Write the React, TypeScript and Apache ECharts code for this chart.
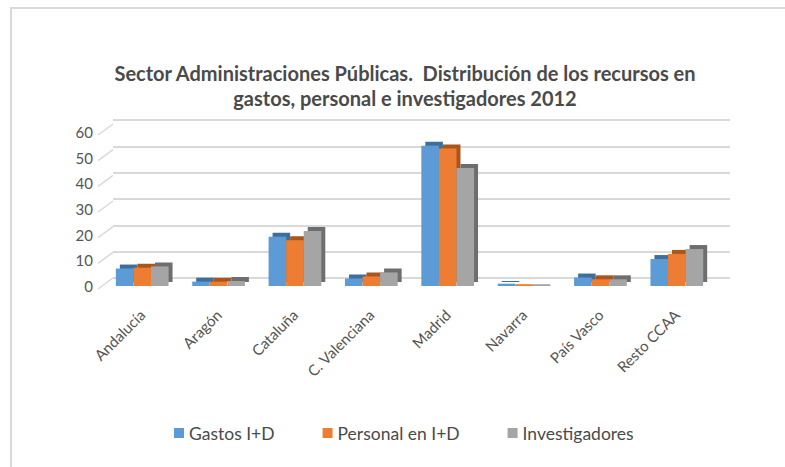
import React, { useEffect, useRef } from "react";
import * as echarts from "echarts";

const categories = ["Andalucía", "Aragón", "Cataluña", "C. Valenciana", "Madrid", "Navarra", "País Vasco", "Resto CCAA"];
const gastos = [6.8, 1.7, 19.2, 2.9, 54.6, 0.9, 3.3, 10.5];
const personal = [7.1, 1.7, 17.8, 3.7, 53.6, 0.7, 2.6, 12.5];
const investigadores = [7.6, 1.9, 21.4, 5.3, 46.0, 0.7, 2.6, 14.4];
const yTicks = [0, 10, 20, 30, 40, 50, 60];
const seriesNames = ["Gastos I+D", "Personal en I+D", "Investigadores"];
const titleText = "Sector Administraciones Públicas.  Distribución de los recursos en\ngastos, personal e investigadores 2012";

const FONT = "Lato, 'Open Sans', sans-serif";
const TXT = "#555555";

export default function App() {
  const ref = useRef<HTMLDivElement>(null);
  useEffect(() => {
    if (!ref.current) return;
    const chart = echarts.init(ref.current, undefined, { renderer: "svg" });
    const barSeries = (name: string, data: number[], color: string, side: string) => ({
      name,
      type: "bar",
      xAxisIndex: 1,
      yAxisIndex: 1,
      data,
      barWidth: "23%",
      barGap: "0%",
      itemStyle: {
        color,
        shadowColor: side,
        shadowBlur: 0,
        shadowOffsetX: 4,
        shadowOffsetY: -4,
      },
    });
    chart.setOption({
      animation: false,
      backgroundColor: "#ffffff",
      textStyle: { fontFamily: FONT },
      title: {
        text: titleText,
        left: 405,
        textAlign: "center",
        top: 60,
        padding: 0,
        textStyle: { fontFamily: FONT, fontSize: 20, fontWeight: "bold", color: "#4a4a4a", lineHeight: 25 },
      },
      legend: {
        data: seriesNames,
        left: 174,
        top: 424,
        padding: 0,
        icon: "rect",
        itemWidth: 10,
        itemHeight: 10,
        itemGap: 48,
        textStyle: { fontFamily: FONT, fontSize: 17.5, color: "#4a4a4a" },
      },
      graphic: [
        {
          type: "rect",
          shape: { x: 11, y: 8, width: 800, height: 500 },
          style: { fill: "none", stroke: "#d9d9d9", lineWidth: 2 },
          silent: true,
        },
      ],
      grid: [
        { left: 113, right: 55, top: 120, bottom: 189 },
        { left: 104, right: 70, top: 132, bottom: 181 },
      ],
      xAxis: [
        { type: "category", gridIndex: 0, data: categories, show: false },
        {
          type: "category",
          gridIndex: 1,
          data: categories,
          axisLine: { show: false },
          axisTick: { show: false },
          axisLabel: { rotate: 45, margin: 26, fontFamily: FONT, fontSize: 15, color: TXT, interval: 0 },
        },
      ],
      yAxis: [
        {
          type: "value",
          gridIndex: 0,
          min: 0,
          max: 60,
          interval: 10,
          axisLabel: { show: false },
          axisLine: { show: false },
          axisTick: { show: false },
          splitLine: { lineStyle: { color: "#d9d9d9", width: 2 } },
        },
        {
          type: "value",
          gridIndex: 1,
          min: 0,
          max: 60,
          interval: 10,
          axisLine: { show: false },
          axisTick: { show: false },
          splitLine: { show: false },
          axisLabel: { margin: 11, fontFamily: FONT, fontSize: 15, color: TXT },
        },
      ],
      series: [
        {
          type: "custom",
          xAxisIndex: 1,
          yAxisIndex: 1,
          silent: true,
          data: yTicks.map((v) => [0, v]),
          encode: { x: 0, y: 1 },
          renderItem: (params: any, api: any) => {
            const v = api.value(1);
            const p = api.coord([0, v]);
            const half = api.size([1, 0])[0] / 2;
            const x = p[0] - half;
            return {
              type: "line",
              shape: { x1: x - 6, y1: p[1] + 3, x2: x + 9, y2: p[1] - 8 },
              style: { stroke: "#d9d9d9", lineWidth: 1.5 },
            };
          },
        },
        barSeries(seriesNames[0], gastos, "#5B9BD5", "#3E6E9C"),
        barSeries(seriesNames[1], personal, "#ED7D31", "#A8561F"),
        barSeries(seriesNames[2], investigadores, "#A5A5A5", "#6E6E6E"),
      ],
    });
    return () => chart.dispose();
  }, []);
  return <div ref={ref} style={{ position: "fixed", left: 0, top: 0, width: 785, height: 467 }} />;
}
